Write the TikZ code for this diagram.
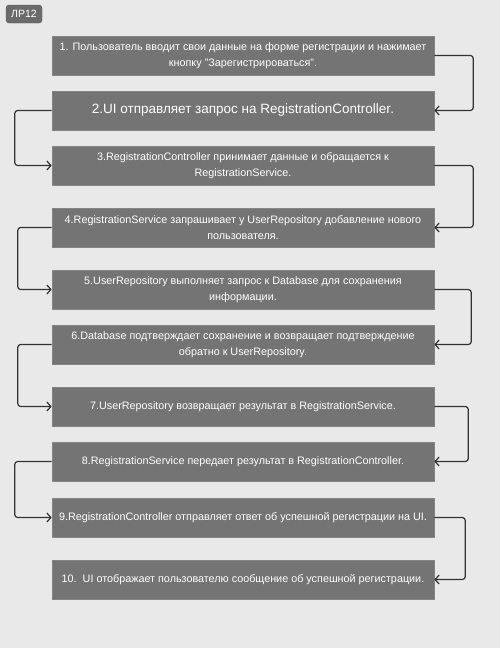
\documentclass[tikz,border=0pt]{standalone}
\usepackage{fontspec}
\setmainfont{Liberation Sans}
\usetikzlibrary{arrows.meta}
\definecolor{bgc}{HTML}{E9E9E9}
\definecolor{boxc}{HTML}{747474}
\definecolor{boxe}{HTML}{858585}
\definecolor{linec}{HTML}{333333}
\definecolor{tagc}{HTML}{6B6B6B}
\begin{document}
\begin{tikzpicture}[x=1pt,y=-1pt,
  stepbox/.style={draw=boxe,line width=0.6pt,fill=boxc,text=white,minimum width=382pt,minimum height=39pt,
    inner sep=0pt,align=center,font=\fontsize{10.8}{16}\selectfont},
  bigbox/.style={stepbox,font=\fontsize{13.5}{16}\selectfont},
  conn/.style={draw=linec,line width=1.2pt,rounded corners=3pt,-{Straight Barb[length=4pt,width=9pt,line width=1.2pt]}},
  tag/.style={draw=tagc!80!black,fill=tagc,text=white,rounded corners=3pt,minimum width=36pt,minimum height=18pt,inner sep=0pt,font=\fontsize{10.5}{12}\selectfont}
]
\fill[bgc] (0,0) rectangle (500,648);
\useasboundingbox (0,0) rectangle (500,648);
\node[tag] (t) at (24,14) {ЛР12};
\node[stepbox] (b1) at (243,55.5) {1. Пользователь вводит свои данные на форме регистрации и нажимает\\кнопку "Зарегистрироваться".};
\node[bigbox] (b2) at (243,110.5) {2.UI отправляет запрос на RegistrationController.};
\node[stepbox] (b3) at (243,165.5) {3.RegistrationController принимает данные и обращается к\\RegistrationService.};
\node[stepbox] (b4) at (243,227.5) {4.RegistrationService запрашивает у UserRepository добавление нового\\пользователя.};
\node[stepbox] (b5) at (243,289.5) {5.UserRepository выполняет запрос к Database для сохранения\\информации.};
\node[stepbox] (b6) at (243,344.5) {6.Database подтверждает сохранение и возвращает подтверждение\\обратно к UserRepository.};
\node[stepbox] (b7) at (243,406.5) {7.UserRepository возвращает результат в RegistrationService.};
\node[stepbox] (b8) at (243,461.5) {8.RegistrationService передает результат в RegistrationController.};
\node[stepbox] (b9) at (243,517.5) {9.RegistrationController отправляет ответ об успешной регистрации на UI.};
\node[stepbox] (b10) at (243,579.5) {10.\ \ UI отображает пользователю сообщение об успешной регистрации.};
\draw[conn] (b1.east) -| ([xshift=39pt]b2.east) -- (b2.east);
\draw[conn] (b2.west) -| ([xshift=-37pt]b3.west) -- (b3.west);
\draw[conn] (b3.east) -| ([xshift=39pt]b4.east) -- (b4.east);
\draw[conn] (b4.west) -| ([xshift=-34pt]b5.west) -- (b5.west);
\draw[conn] (b5.east) -| ([xshift=37pt]b6.east) -- (b6.east);
\draw[conn] (b6.west) -| ([xshift=-34pt]b7.west) -- (b7.west);
\draw[conn] (b7.east) -| ([xshift=34pt]b8.east) -- (b8.east);
\draw[conn] (b8.west) -| ([xshift=-37pt]b9.west) -- (b9.west);
\draw[conn] (b9.east) -| ([xshift=31pt]b10.east) -- (b10.east);
\end{tikzpicture}
\end{document}
